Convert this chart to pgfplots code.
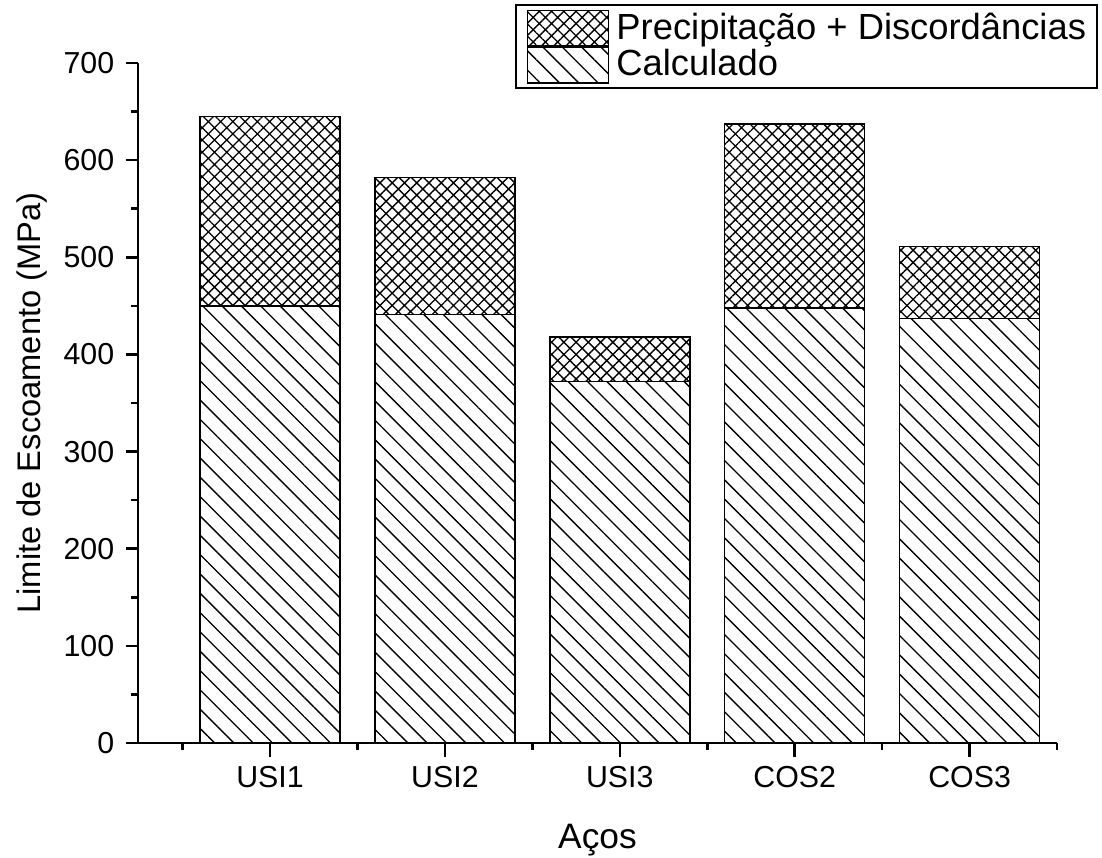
\documentclass[border=0pt]{standalone}
\usepackage{pgfplots}
\pgfplotsset{compat=1.18}
\usepackage{fontspec}
\setmainfont{Liberation Sans}
\usetikzlibrary{patterns,patterns.meta,calc}

\begin{document}
\begin{tikzpicture}
\begin{axis}[
  width=275.7pt, height=204pt, scale only axis,
  xmin=0.245, xmax=5.5, ymin=0, ymax=700,
  axis x line*=bottom, axis y line*=left,
  axis line style={line width=0.8pt,-},
  ybar stacked, bar width=0.8,
  xtick={1,2,3,4,5},
  xticklabels={USI1,USI2,USI3,COS2,COS3},
  minor xtick={0.5,1.5,2.5,3.5,4.5,5.5},
  ytick={0,100,...,700},
  minor ytick={50,150,...,650},
  tick align=outside,
  major tick length=3.6pt, minor tick length=2.1pt,
  every tick/.style={black, line width=0.75pt},
  xtick style={black, line width=0.75pt, /pgfplots/major tick length=4.2pt},
  major x tick style={black, line width=0.75pt, /pgfplots/major tick length=4.2pt},
  /pgf/number format/assume math mode=true,
  ticklabel style={font=\fontsize{9.1}{11}\selectfont},
  xlabel={Aços},
  ylabel={Limite de Escoamento (MPa)},
  every axis x label/.style={at={(axis description cs:0.5,-0.1544)}, anchor=base, font=\fontsize{10.6}{12}\selectfont},
  every axis y label/.style={at={(axis description cs:-0.1153,0.5)}, rotate=90, anchor=center, font=\fontsize{9.8}{12}\selectfont},
  reverse legend,
  legend cell align=left,
  legend image code/.code={\draw[#1, line width=0.45pt] (0pt,-5.3pt) rectangle (24.3pt,5.3pt);},
  legend style={at={(axis description cs:0.4102,1.0864)}, anchor=north west,
    draw=black, line width=0.6pt, inner xsep=3.3pt, inner ysep=1.4pt,
    font=\fontsize{10.9}{13}\selectfont,
    nodes={inner sep=0pt},
    /tikz/every odd column/.append style={column sep=2.1pt}},
  clip=false,
]
\addplot+[draw=black, line width=0.45pt, fill=white,
  pattern={Lines[angle=-45, distance=4.1pt, line width=0.4pt]}, pattern color=black]
  coordinates {(1,450) (2,441) (3,372) (4,448) (5,437)};
\addlegendentry{Calculado}
\addplot+[draw=black, line width=0.45pt, fill=white,
  pattern={Hatch[angle=45, distance=2.6pt, line width=0.4pt]}, pattern color=black]
  coordinates {(1,195) (2,141) (3,46) (4,189) (5,74)};
\addlegendentry{Precipitação + Discordâncias}
\coordinate (ll) at (rel axis cs:0,0);
\coordinate (ur) at (rel axis cs:1,1);
\end{axis}
\pgfresetboundingbox
\path ($(ll)+(-41.4pt,-34.2pt)$) rectangle ($(ur)+(13.5pt,18.9pt)$);
\end{tikzpicture}
\end{document}
